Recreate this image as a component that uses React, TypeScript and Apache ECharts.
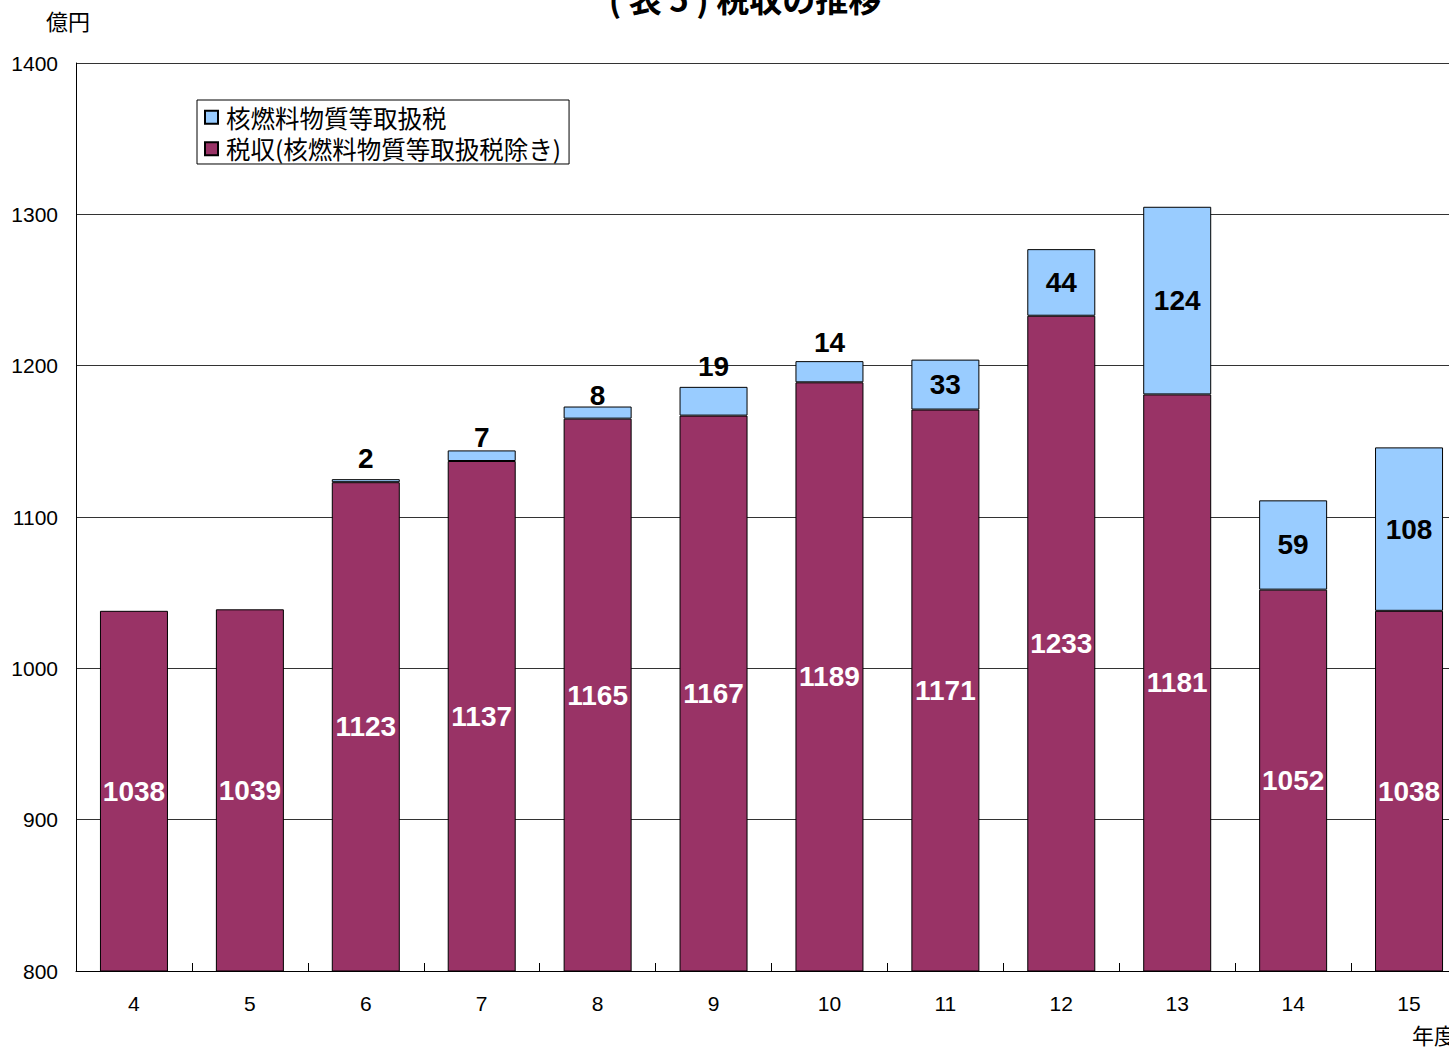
import React, { useEffect, useRef } from "react";
import * as echarts from "echarts";

const categories = ["4", "5", "6", "7", "8", "9", "10", "11", "12", "13", "14", "15"];
const baseTax = [1038, 1039, 1123, 1137, 1165, 1167, 1189, 1171, 1233, 1181, 1052, 1038];
const nuclearTax: (number | null)[] = [null, null, 2, 7, 8, 19, 14, 33, 44, 124, 59, 108];

const nameNuclear = "核燃料物質等取扱税";
const nameBase = "税収(核燃料物質等取扱税除き)";
const titleText = "( 表 5 ) 税収の推移";
const unitText = "億円";
const xUnitText = "年度";

const CJK = "'Noto Sans CJK JP', sans-serif";
const LAT = "'Liberation Sans', Arial, sans-serif";

// label placement for the thin segments (style only)
const labelAboveDistance: (number | null)[] = [null, null, 7, -1, -3, 6, 5, null, null, null, null, null];

export default function App() {
  const ref = useRef<HTMLDivElement>(null);
  useEffect(() => {
    if (!ref.current) return;
    const chart = echarts.init(ref.current, null, { renderer: "svg" });
    chart.setOption({
      animation: false,
      backgroundColor: "#ffffff",
      grid: { left: 76, right: 0, top: 63, bottom: 78, containLabel: false },
      legend: {
        data: [nameNuclear, nameBase],
        orient: "vertical",
        left: 197,
        top: 100,
        padding: [5, 8, 3, 7],
        itemGap: 7,
        itemWidth: 13,
        itemHeight: 13,
        borderColor: "#000",
        borderWidth: 1,
        borderRadius: 0,
        icon: "rect",
        textStyle: {
          fontSize: 24.5,
          lineHeight: 24,
          fontFamily: CJK,
          color: "#000",
          padding: [0, 0, 0, 3],
        },
      },
      graphic: [
        {
          type: "text",
          x: 745,
          y: -19,
          style: {
            text: titleText,
            fontSize: 33,
            fontWeight: "bold",
            fontFamily: CJK,
            fill: "#000",
            align: "center",
          },
        },
        {
          type: "text",
          x: 46,
          y: 9,
          style: { text: unitText, fontSize: 22, fontFamily: CJK, fill: "#000" },
        },
        {
          type: "text",
          x: 1412,
          y: 1023,
          style: { text: xUnitText, fontSize: 22, fontFamily: CJK, fill: "#000" },
        },
      ],
      xAxis: {
        type: "category",
        data: categories,
        axisLine: { show: true, lineStyle: { color: "#000", width: 1 } },
        axisTick: { show: true, inside: true, length: 8, lineStyle: { color: "#000" } },
        axisLabel: { fontSize: 21, fontFamily: LAT, color: "#000", margin: 22 },
      },
      yAxis: {
        type: "value",
        min: 800,
        max: 1400,
        interval: 100,
        axisLine: { show: true, lineStyle: { color: "#000", width: 1 } },
        axisTick: { show: false },
        axisLabel: {
          fontSize: 21,
          fontFamily: LAT,
          color: "#000",
          margin: 18,
          formatter: (v: number) => String(v),
        },
        splitLine: { show: true, lineStyle: { color: "#333", width: 1 } },
      },
      series: [
        {
          name: nameBase,
          type: "bar",
          stack: "total",
          barWidth: 68,
          data: baseTax,
          itemStyle: { color: "#993366", borderColor: "#000", borderWidth: 1 },
          label: {
            show: true,
            position: "inside",
            color: "#fff",
            fontSize: 28,
            fontWeight: "bold",
            fontFamily: LAT,
          },
        },
        {
          name: nameNuclear,
          type: "bar",
          stack: "total",
          barWidth: 68,
          data: nuclearTax.map((v, i) => ({
            value: v,
            label: {
              show: v !== null,
              position: labelAboveDistance[i] !== null ? "top" : "inside",
              distance: labelAboveDistance[i] !== null ? labelAboveDistance[i] : 5,
            },
          })),
          itemStyle: { color: "#99CCFF", borderColor: "#000", borderWidth: 1 },
          label: {
            show: true,
            color: "#000",
            fontSize: 28,
            fontWeight: "bold",
            fontFamily: LAT,
          },
        },
      ],
    });
    return () => chart.dispose();
  }, []);
  return (
    <div style={{ position: "fixed", left: 0, top: 0, width: 1449, height: 1049, overflow: "hidden" }}>
      <div ref={ref} style={{ position: "absolute", left: 0, top: 0, width: 1467, height: 1049 }} />
    </div>
  );
}
